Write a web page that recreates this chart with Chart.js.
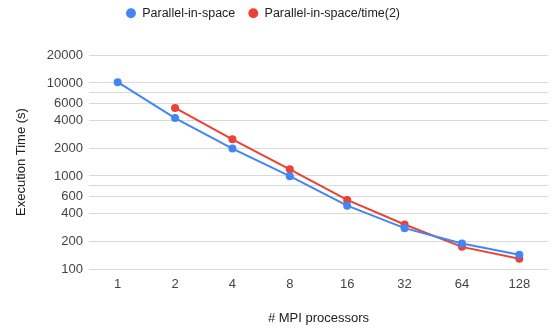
<!DOCTYPE html>
<html>
<head>
<meta charset="utf-8">
<script src="https://cdn.jsdelivr.net/npm/chart.js@4"></script>
<style>
html,body{margin:0;padding:0;background:#fff;}
#wrap{width:558px;height:331px;}
</style>
</head>
<body>
<div id="wrap"><canvas id="c" width="558" height="331"></canvas></div>
<script>
const categories = ['1','2','4','8','16','32','64','128'];
const spaceSeries = [10200, 4200, 1970, 995, 480, 275, 188, 142];
const spaceTimeSeries = [null, 5400, 2480, 1180, 553, 301, 173, 129];
const yTickValues = [100, 200, 400, 600, 800, 1000, 2000, 4000, 6000, 8000, 10000, 20000];
const yTickHidden = [800, 8000];

const FONT = "'Liberation Sans', Arial, sans-serif";
const LAYOUT_TOP = -6;
const PLOT_TOP = 55;
const LEGEND_SHIFT = -11;

const legendPlugin = {
  id: 'legendTweak',
  beforeInit(chart) {
    const lg = chart.legend;
    if (!lg) return;
    const origFit = lg.fit;
    lg.fit = function () {
      origFit.call(this);
      this.height = PLOT_TOP - LAYOUT_TOP;
    };
  },
  afterLayout(chart) {
    const lg = chart.legend;
    if (!lg) return;
    lg.left += LEGEND_SHIFT;
    lg.right += LEGEND_SHIFT;
  }
};

new Chart(document.getElementById('c'), {
  type: 'line',
  data: {
    labels: categories,
    datasets: [
      {
        label: 'Parallel-in-space',
        data: spaceSeries,
        borderColor: '#4285F4',
        backgroundColor: '#4285F4',
        borderWidth: 2,
        pointRadius: 4,
        pointBorderWidth: 0,
        pointHoverRadius: 4,
        tension: 0
      },
      {
        label: 'Parallel-in-space/time(2)',
        data: spaceTimeSeries,
        borderColor: '#EA4335',
        backgroundColor: '#EA4335',
        borderWidth: 2,
        pointRadius: 4,
        pointBorderWidth: 0,
        pointHoverRadius: 4,
        tension: 0
      }
    ]
  },
  plugins: [legendPlugin],
  options: {
    responsive: false,
    animation: false,
    layout: { padding: { left: 0, right: 10, top: LAYOUT_TOP, bottom: 1 } },
    plugins: {
      legend: {
        position: 'top',
        labels: {
          usePointStyle: true,
          pointStyle: 'circle',
          boxWidth: 10,
          boxHeight: 7,
          padding: 13,
          color: '#222',
          font: { family: FONT, size: 12.5 }
        }
      },
      tooltip: { enabled: false }
    },
    scales: {
      x: {
        offset: true,
        grid: { display: false, drawTicks: false },
        border: { display: false },
        ticks: { color: '#444', font: { family: FONT, size: 13 }, padding: 8 },
        title: { display: true, text: '# MPI processors', color: '#222', font: { family: FONT, size: 13 }, padding: { top: 9.8, bottom: 4 } }
      },
      y: {
        type: 'logarithmic',
        min: 100,
        max: 20000,
        afterBuildTicks: (scale) => { scale.ticks = yTickValues.map(v => ({ value: v })); },
        afterFit: (scale) => { scale.width = 89; },
        grid: { color: '#d9d9d9', drawTicks: false },
        border: { display: false },
        ticks: {
          color: '#444',
          font: { family: FONT, size: 13 },
          padding: 6,
          autoSkip: false,
          callback: (v) => yTickHidden.includes(v) ? '' : String(v)
        },
        title: { display: true, text: 'Execution Time (s)', color: '#222', font: { family: FONT, size: 13 }, padding: { top: 14, bottom: 0 } }
      }
    }
  }
});
</script>
</body>
</html>
